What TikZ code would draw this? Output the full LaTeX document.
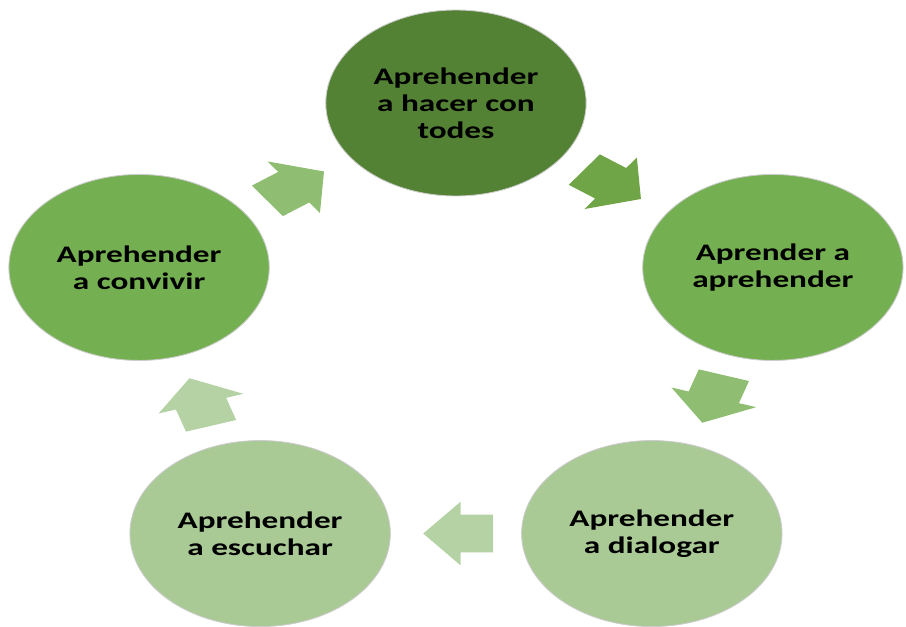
\documentclass[tikz,border=0pt]{standalone}
\usepackage{fontspec}
\setmainfont{Carlito}
\usepackage{tikz}
\usetikzlibrary{shapes.arrows, calc}

\definecolor{verdeoscuro}{HTML}{548235}
\definecolor{verde}{HTML}{74AF52}
\definecolor{verdeclaro}{HTML}{A9C995}
\definecolor{flecha1}{HTML}{6FA547}
\definecolor{flecha2}{HTML}{8FBD72}
\definecolor{flecha3}{HTML}{B4D2A4}

\tikzstyle{stage} = [circle, minimum size=3.72cm, inner sep=0pt, align=center, draw=white!80!black, line width=0.5pt, font=\fontsize{13.5}{15.4}\selectfont\bfseries]
\tikzstyle{cyclearrow} = [single arrow, minimum height=1cm, inner xsep=0pt, inner ysep=0.37cm, single arrow head extend=0.26cm, single arrow tip angle=100, draw=none]

\begin{document}
\begin{tikzpicture}[xscale=1.4, transform shape]
\useasboundingbox (-6.514,-5.70) rectangle (6.429,6.82);

\node (hacer) [stage, fill=verdeoscuro] at (90:4.76) {Aprehender\\a hacer con\\todes};
\node (aprender) [stage, fill=verde] at (18:4.76) {Aprender a\\aprehender};
\node (dialogar) [stage, fill=verdeclaro] at (-54:4.76) {Aprehender\\a dialogar};
\node (escuchar) [stage, fill=verdeclaro] at (-126:4.76) {Aprehender\\a escuchar};
\node (convivir) [stage, fill=verde] at (162:4.76) {Aprehender\\a convivir};

% arrows sit a bit before the chord midpoint
\node (arr1) [cyclearrow, fill=flecha1, rotate=-36] at ($(hacer)!0.466!(aprender)$) {};
\node (arr2) [cyclearrow, fill=flecha2, rotate=-108] at ($(aprender)!0.466!(dialogar)$) {};
\node (arr3) [cyclearrow, fill=flecha3, rotate=180] at ($(dialogar)!0.466!(escuchar)$) {};
\node (arr4) [cyclearrow, fill=flecha3, rotate=108] at ($(escuchar)!0.466!(convivir)$) {};
\node (arr5) [cyclearrow, fill=flecha2, rotate=36] at ($(convivir)!0.466!(hacer)$) {};

\end{tikzpicture}
\end{document}
